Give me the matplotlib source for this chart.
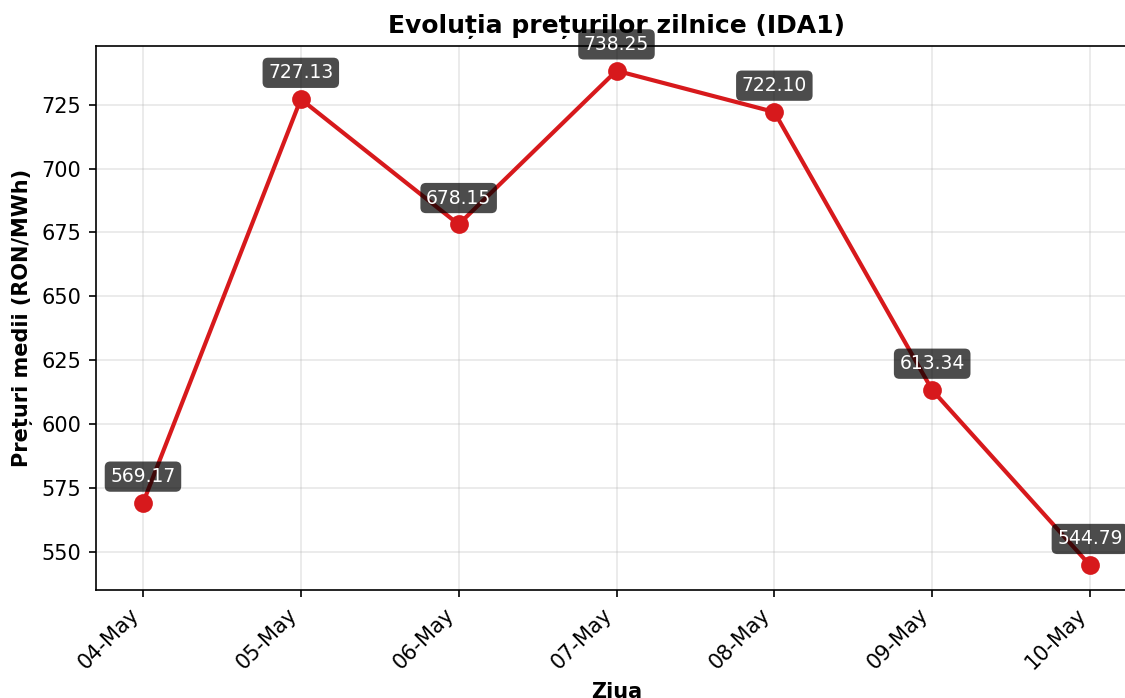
import numpy as np
import matplotlib.pyplot as plt

days = ['04-May', '05-May', '06-May', '07-May', '08-May', '09-May', '10-May']
prices = [569.17, 727.13, 678.15, 738.25, 722.10, 613.34, 544.79]

dpi = 150
fig = plt.figure(figsize=(1125 / dpi, 698 / dpi), dpi=dpi)
ax = fig.add_axes([0.085, 0.1547, 0.926, 0.7794])

x = np.arange(len(days))
ax.plot(x, prices, color='#d7191c', linewidth=2, marker='o', markersize=8)

for xi, p in zip(x, prices):
    ax.annotate(f'{p:.2f}', (xi, p), textcoords='offset points', xytext=(0, 10),
                ha='center', fontsize=9, color='white',
                bbox=dict(boxstyle='round,pad=0.3', fc='black', ec='none', alpha=0.7))

ax.set_xticks(x)
ax.set_xticklabels(days, rotation=45, ha='right')
ax.grid(True, alpha=0.3)
ax.set_title('Evoluția prețurilor zilnice (IDA1)', fontsize=12, fontweight='bold')
ax.set_xlabel('Ziua', fontsize=10, fontweight='bold')
ax.set_ylabel('Prețuri medii (RON/MWh)', fontsize=10, fontweight='bold')

fig.savefig('out.png', dpi=dpi)
